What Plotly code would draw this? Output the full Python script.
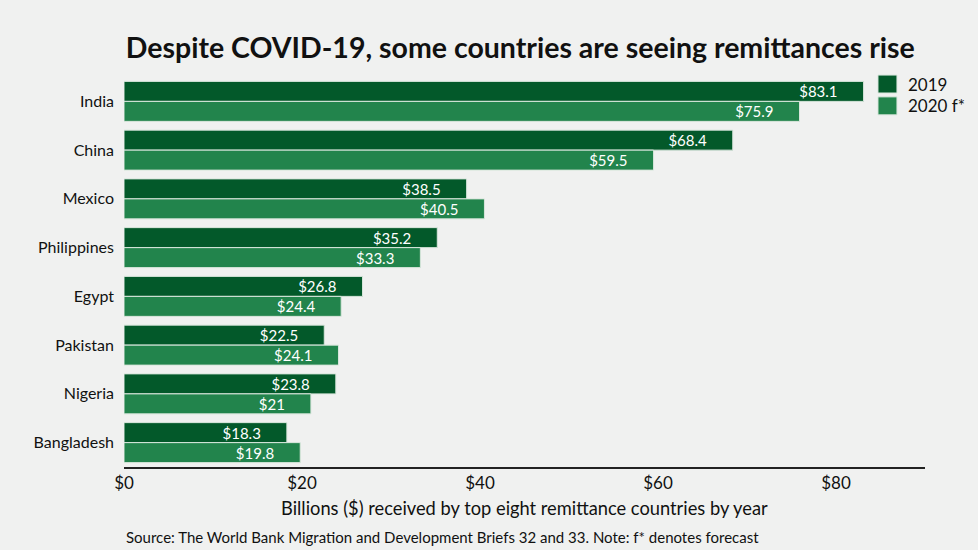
import plotly.graph_objects as go

# Data
countries = ['India', 'China', 'Mexico', 'Philippines', 'Egypt', 'Pakistan', 'Nigeria', 'Bangladesh']
values_2019 = [83.1, 68.4, 38.5, 35.2, 26.8, 22.5, 23.8, 18.3]
values_2020 = [75.9, 59.5, 40.5, 33.3, 24.4, 24.1, 21.0, 19.8]
series_names = ['2019', '2020 f*']
tick_vals = [0, 20, 40, 60, 80]
tick_text = ['$0', '$20', '$40', '$60', '$80']

font_family = 'Lato, Noto Sans, sans-serif'
dark_green = '#03592a'
light_green = '#22844c'
bg = '#f0f1f0'
ink = '#111111'


def label(v):
    # trailing non-breaking spaces keep the value off the bar end, like the original
    return '$' + ('%g' % v) + '\u00a0' * 6


fig = go.Figure()

for name, vals, col in zip(series_names, [values_2019, values_2020], [dark_green, light_green]):
    fig.add_trace(go.Bar(
        y=countries, x=vals, name=name, orientation='h',
        marker=dict(color=col, line=dict(color='#d8e6dc', width=1)),
        text=[label(v) for v in vals], textposition='inside',
        insidetextanchor='end', textfont=dict(color='white', size=15, family=font_family),
        showlegend=False, hoverinfo='x+y'
    ))

fig.update_layout(
    width=978, height=550,
    barmode='group', bargap=0.18, bargroupgap=0,
    paper_bgcolor=bg, plot_bgcolor=bg,
    font=dict(family=font_family, color=ink, size=15),
    title=dict(text='<b>Despite COVID-19, some countries are seeing remittances rise</b>',
               x=0.532, xanchor='center', y=0.913, yanchor='middle',
               font=dict(size=28.5, color=ink)),
    margin=dict(l=124, r=53, t=77, b=83),
    uniformtext=dict(minsize=12, mode='show'),
    xaxis=dict(range=[0, 90], tickvals=tick_vals, ticktext=tick_text,
               showgrid=False, zeroline=False, showline=True, linecolor='#222222',
               linewidth=1.5, tickfont=dict(size=17)),
    yaxis=dict(autorange='reversed', showgrid=False, zeroline=False,
               ticks='', ticklabelstandoff=9, tickfont=dict(size=16)),
)

# legend drawn as squares + labels
legend_rows = [(1.005, 0.959), (0.949, 0.903)]
for (y1, y0), name, col in zip(legend_rows, series_names, [dark_green, light_green]):
    fig.add_shape(type='rect', xref='paper', yref='paper', x0=0.9413, x1=0.965,
                  y0=y0, y1=y1, fillcolor=col, line=dict(color='#d8e6dc', width=1))
    fig.add_annotation(text=name, xref='paper', yref='paper', x=0.976, y=(y0 + y1) / 2,
                       xanchor='left', yanchor='middle', showarrow=False,
                       font=dict(size=17, color=ink))

fig.add_annotation(
    text='Billions ($) received by top eight remittance countries by year',
    xref='paper', yref='paper', x=0.5, y=-0.105, xanchor='center', yanchor='middle',
    showarrow=False, font=dict(size=18.3, color=ink)
)
fig.add_annotation(
    text='Source: The World Bank Migration and Development Briefs 32 and 33. Note: f* denotes forecast',
    xref='paper', yref='paper', x=0, y=-0.179, xanchor='left', yanchor='middle',
    showarrow=False, font=dict(size=15, color=ink)
)

fig.write_html('out.html', config={'displayModeBar': False},
               post_script="document.body.style.margin='0';")
